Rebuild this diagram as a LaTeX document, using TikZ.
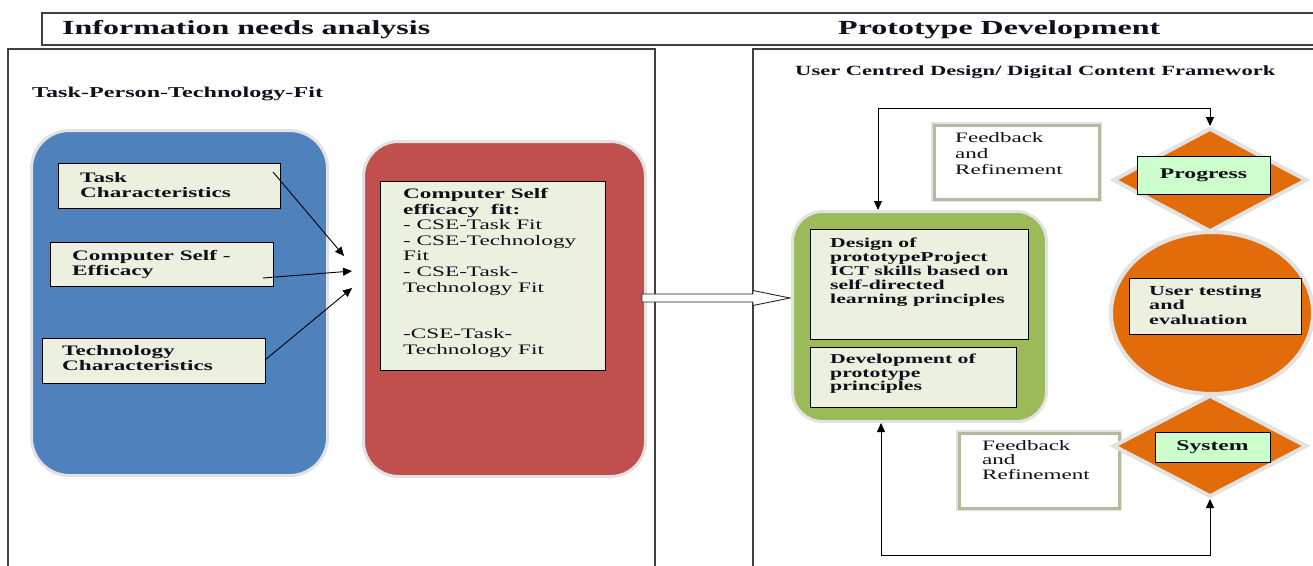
\documentclass[tikz,border=0pt]{standalone}
\usepackage{fontspec}
\setmainfont{Liberation Serif}[FakeStretch=1.6]
\usetikzlibrary{shapes.geometric,arrows.meta}
\definecolor{cblue}{HTML}{4F81BD}
\definecolor{cred}{HTML}{C0504D}
\definecolor{cgreen}{HTML}{9BBB59}
\definecolor{corange}{HTML}{E36C0A}
\definecolor{cfill}{HTML}{EBF1DE}
\definecolor{cmint}{HTML}{CCFFCC}
\definecolor{cglow}{HTML}{E2E2E2}
\definecolor{cfb}{HTML}{B2BAA0}
\definecolor{cpanel}{HTML}{404040}
\definecolor{ctext}{HTML}{10101C}
\newcommand{\fsz}[2]{\fontsize{#1}{#2}\selectfont}
\tikzset{
  panel/.style={draw=cpanel, line width=1.4pt},
  roundbox/.style={rectangle, rounded corners=#1, draw=cglow, line width=3pt, inner sep=0pt, anchor=north west},
  fitbox/.style={rectangle, draw=black, line width=0.9pt, fill=cfill, inner sep=0pt, anchor=north west},
  fbbox/.style={rectangle, draw=cfb, line width=2.5pt, fill=white, inner sep=0pt, anchor=north west,
    preaction={draw=cglow, line width=6pt}},
  txt/.style={inner sep=0pt, align=left, anchor=north west, text=ctext},
  lbl/.style={inner sep=0pt, anchor=base west, text=ctext},
  dia/.style={diamond, fill=corange, draw=cglow, line width=4pt, inner sep=0pt},
  mint/.style={rectangle, fill=cmint, draw=black, line width=0.9pt, inner sep=0pt, text=ctext},
  arr/.style={-{Triangle[length=9pt,width=8pt]}, line width=0.9pt},
  darr/.style={{Triangle[length=9pt,width=8pt]}-{Triangle[length=9pt,width=8pt]}, line width=1pt},
}
\begin{document}
\begin{tikzpicture}[x=1pt,y=-1pt]
\useasboundingbox (0,0) rectangle (1313,565);
% header
\draw[panel] (1320,13) -- (42,13) -- (42,44.5);
\draw[draw=cpanel, line width=2.6pt] (40.7,45) -- (1320,45);
\node[lbl, font=\fsz{20}{23}\bfseries] (h1) at (62,34) {Information needs analysis};
\node[lbl, font=\fsz{20}{23}\bfseries] (h2) at (838,34) {Prototype Development};
% panels
\draw[panel] (8,570) -- (8,49) -- (655,49) -- (655,570);
\draw[panel] (753,570) -- (753,49) -- (1320,49);
\node[lbl, font=\fsz{15.1}{17}\bfseries] (tptf) at (32,97) {Task-Person-Technology-Fit};
\node[lbl, font=\fsz{14.1}{16}\bfseries] (ucd) at (795,75) {User Centred Design/ Digital Content Framework};
% left side
\node[roundbox=38pt, fill=cblue, minimum width=296pt, minimum height=345pt] (blue) at (30,129) {};
\node[roundbox=35pt, fill=cred, minimum width=282pt, minimum height=335pt] (red) at (362,140) {};
\node[fitbox, minimum width=222pt, minimum height=45pt] (task) at (58,163) {};
\node[fitbox, minimum width=223pt, minimum height=44pt] (cse) at (50,242) {};
\node[fitbox, minimum width=223pt, minimum height=45pt] (tech) at (42,338) {};
\node[fitbox, minimum width=225pt, minimum height=189pt] (fit) at (380,181) {};
\node[txt, font=\fsz{14.5}{15.5}\bfseries] (tasktx) at (80,172) {Task\\Characteristics};
\node[txt, font=\fsz{14.5}{15.5}\bfseries] (csetx) at (72,250) {Computer Self -\\Efficacy};
\node[txt, font=\fsz{14.5}{15.5}\bfseries] (techtx) at (62,345) {Technology\\Characteristics};
\node[txt, font=\fsz{14.5}{15.6}] (fittx) at (403,188) {\textbf{Computer Self}\\\textbf{efficacy\ \ fit:}\\- CSE-Task Fit\\- CSE-Technology\\Fit\\- CSE-Task-\\Technology Fit\\[31.2pt]-CSE-Task-\\Technology Fit};
\coordinate (a1s) at (273,172);
\coordinate (a1e) at (344,256);
\coordinate (a2s) at (263,278);
\coordinate (a2e) at (352,271);
\coordinate (a3s) at (265,360);
\coordinate (a3e) at (352,288);
\draw[arr] (a1s) -- (a1e);
\draw[arr] (a2s) -- (a2e);
\draw[arr] (a3s) -- (a3e);
% block arrow
\draw[fill=white, line width=0.9pt, draw=black!85] (642,294) -- (753,294) -- (753,290.5) -- (790,298) -- (753,305.5) -- (753,302) -- (642,302) -- cycle;
% right side
\node[roundbox=30pt, fill=cgreen, minimum width=254pt, minimum height=210pt] (green) at (791,210) {};
\node[fitbox, minimum width=218pt, minimum height=110pt] (design) at (810,229) {};
\node[fitbox, minimum width=206pt, minimum height=60pt] (dev) at (810,347) {};
\node[txt, font=\fsz{13.6}{14.1}\bfseries] (designtx) at (830,237.6) {Design of\\prototypeProject\\ICT skills based on\\self-directed\\learning principles};
\node[txt, font=\fsz{13.6}{13.8}\bfseries] (devtx) at (830,353.6) {Development of\\prototype\\principles};
\node[fbbox, minimum width=165pt, minimum height=74pt] (fb1) at (933,124) {};
\node[txt, font=\fsz{14.4}{16}] (fb1tx) at (955,132) {Feedback\\and\\Refinement};
\node[fbbox, minimum width=160pt, minimum height=75pt] (fb2) at (958,432) {};
\node[txt, font=\fsz{14.4}{14.6}] (fb2tx) at (982,440) {Feedback\\and\\Refinement};
\node[dia, minimum width=194pt, minimum height=104pt] (prog) at (1210,180) {};
\node[mint, minimum width=133pt, minimum height=38pt, font=\fsz{14.8}{16}\bfseries] (progl) at (1203.5,175) {Progress};
\node[ellipse, fill=corange, draw=cglow, line width=4pt, minimum width=202pt, minimum height=162pt, inner sep=0pt] (circ) at (1212,313) {};
\node[fitbox, minimum width=172pt, minimum height=56pt] (ut) at (1129,278) {};
\node[txt, font=\fsz{13.8}{14.5}\bfseries] (uttx) at (1149,285.5) {User testing\\and\\evaluation};
\node[dia, minimum width=194pt, minimum height=102pt] (sys) at (1210,446) {};
\node[mint, minimum width=115pt, minimum height=30pt, font=\fsz{14.8}{16}\bfseries] (sysl) at (1212.5,447) {System};
% loops
\coordinate (tl) at (878,108);
\coordinate (tr) at (1210,108);
\coordinate (bl) at (881,555);
\coordinate (br) at (1210,555);
\draw[darr] (tl |- green.north) -- (tl) -- (tr) -- (prog.north);
\draw[darr] (bl |- green.south) -- (bl) -- (br) -- (sys.south);
\end{tikzpicture}
\end{document}
